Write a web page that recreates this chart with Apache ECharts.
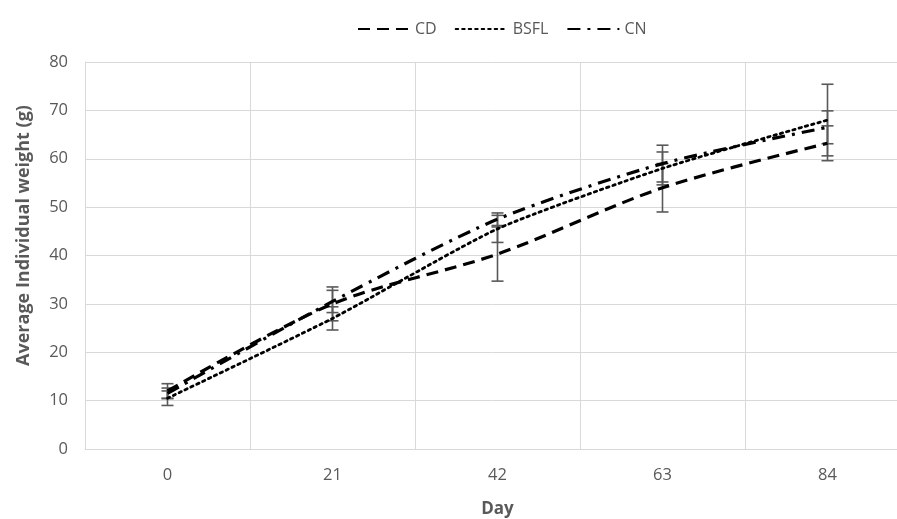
<!DOCTYPE html>
<html><head><meta charset="utf-8">
<script src="https://cdn.jsdelivr.net/npm/echarts@6/dist/echarts.min.js"></script>
<style>html,body{margin:0;padding:0;background:#fff}#c{width:897px;height:519px}</style>
</head><body><div id="c"></div>
<script>
var days = ['0','21','42','63','84'];
var yTicks = [0,10,20,30,40,50,60,70,80];
var cd = [12, 30, 40.3, 54, 63.2];
var cdErr = [1.5, 3.5, 5.6, 5.0, 3.6];
var bsfl = [10.5, 27, 45.5, 58, 68];
var bsflErr = [1.5, 2.4, 2.8, 3.4, 7.4];
var cn = [11.5, 30.5, 47.5, 59, 66.5];
var cnErr = [1.1, 2.3, 1.3, 3.8, 3.4];

var chart = echarts.init(document.getElementById('c'));
var grey = '#595959';
function errData(vals, errs){
  return vals.map(function(v,i){ return [i, v - errs[i], v + errs[i]]; });
}
function errSeries(name, vals, errs){
  return {
    type:'custom', name: name + ' err', silent:true, z:1,
    data: errData(vals, errs),
    encode:{x:0, y:[1,2]},
    renderItem: function(params, api){
      var lo = api.coord([api.value(0), api.value(1)]);
      var hi = api.coord([api.value(0), api.value(2)]);
      var w = 6;
      var st = {stroke: grey, lineWidth: 1.6};
      return {type:'group', children:[
        {type:'line', shape:{x1:lo[0], y1:lo[1], x2:hi[0], y2:hi[1]}, style:st},
        {type:'line', shape:{x1:lo[0]-w, y1:lo[1], x2:lo[0]+w, y2:lo[1]}, style:st},
        {type:'line', shape:{x1:hi[0]-w, y1:hi[1], x2:hi[0]+w, y2:hi[1]}, style:st}
      ]};
    }
  };
}
chart.setOption({
  animation:false,
  textStyle:{fontFamily:'Open Sans, Noto Sans, sans-serif'},
  legend:{
    data:['CD','BSFL','CN'], top:16, left:352, itemWidth:52, itemHeight:10, itemGap:18,
    itemStyle:{opacity:0},
    textStyle:{color:grey, fontSize:16}
  },
  grid:{left:85, width:825, top:62, bottom:70, containLabel:false, outerBoundsMode:'none'},
  xAxis:{
    type:'category', data:days, boundaryGap:true,
    name:'Day', nameLocation:'middle', nameGap:52,
    nameTextStyle:{color:grey, fontSize:17, fontWeight:'bold'},
    axisLine:{lineStyle:{color:'#d9d9d9', width:1}},
    axisTick:{show:false},
    axisLabel:{color:grey, fontSize:16.5, margin:18},
    splitLine:{show:true, lineStyle:{color:'#d9d9d9', width:1}}
  },
  yAxis:{
    type:'value', min:0, max:80, interval:10,
    name:'Average Individual weight (g)', nameLocation:'middle', nameGap:52,
    nameTextStyle:{color:grey, fontSize:18, fontWeight:'bold', padding:[0,0,0,40]},
    axisLine:{show:true, lineStyle:{color:'#d9d9d9'}},
    axisTick:{show:false},
    axisLabel:{color:grey, fontSize:16.5, margin:17},
    splitLine:{show:true, lineStyle:{color:'#d9d9d9', width:1}}
  },
  series:[
    errSeries('CD', cd, cdErr),
    errSeries('BSFL', bsfl, bsflErr),
    errSeries('CN', cn, cnErr),
    {name:'CD', type:'line', data:cd, smooth:0.3, symbol:'none', z:3,
     itemStyle:{color:'#000'},
     lineStyle:{color:'#000', width:3.2, type:[12,7]}},
    {name:'BSFL', type:'line', data:bsfl, smooth:0.2, symbol:'none', z:3,
     itemStyle:{color:'#000'},
     lineStyle:{color:'#000', width:2.8, type:[2.5,4], cap:'round'}},
    {name:'CN', type:'line', data:cn, smooth:0.25, symbol:'none', z:3,
     itemStyle:{color:'#000'},
     lineStyle:{color:'#000', width:3.2, type:[13,7,3,7]}}
  ]
});
</script></body></html>
